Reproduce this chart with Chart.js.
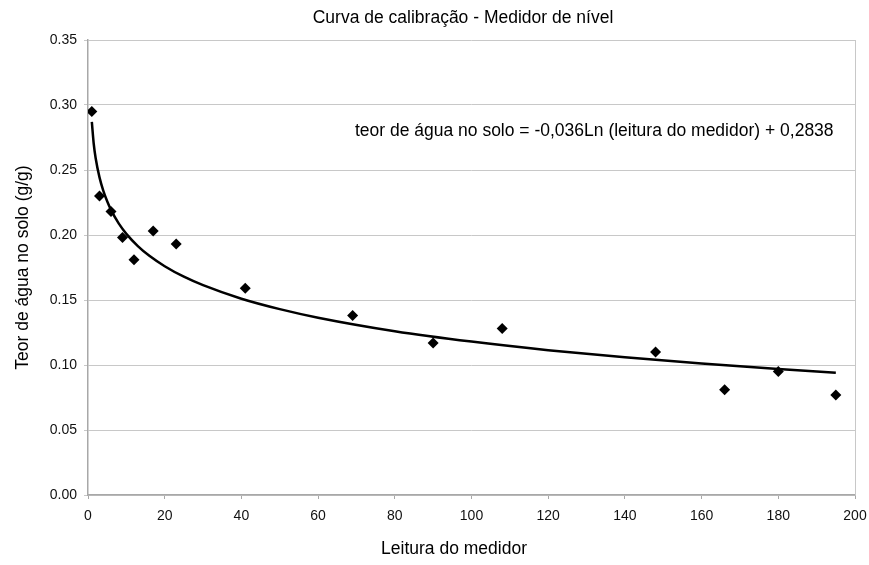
<!DOCTYPE html>
<html>
<head>
<meta charset="utf-8">
<script src="https://cdn.jsdelivr.net/npm/chart.js@4/dist/chart.umd.min.js"></script>
<style>
  body { margin: 0; background: #fff; }
  canvas { display: block; }
</style>
</head>
<body>
<canvas id="myChart" width="869" height="565"></canvas>
<script>
// leituras do medidor e teor de água medido
var readings = [1, 3, 6, 9, 12, 17, 23, 41, 69, 90, 108, 148, 166, 180, 195];
var water = [0.295, 0.230, 0.218, 0.198, 0.181, 0.203, 0.193, 0.159, 0.138, 0.117, 0.128, 0.110, 0.081, 0.095, 0.077];
// linha de tendência (log) lida sobre a curva
var trendX = [1, 1.5, 2, 3, 4, 5, 6, 8, 10, 13, 16, 20, 25, 30, 40, 50, 60, 80, 100, 120, 140, 160, 180, 195];
var trendY = [0.2870, 0.2700, 0.2590, 0.2443, 0.2339, 0.2259, 0.2193, 0.2089, 0.2009, 0.1915, 0.1840, 0.1760, 0.1679, 0.1614, 0.1510, 0.1430, 0.1364, 0.1260, 0.1180, 0.1114, 0.1059, 0.1011, 0.0969, 0.0940];
var chartTitle = "Curva de calibração - Medidor de nível";
var xTitle = "Leitura do medidor";
var yTitle = "Teor de água no solo (g/g)";
var equation = "teor de água no solo = -0,036Ln (leitura do medidor) + 0,2838";

var fontFamily = "'Liberation Sans', Arial, sans-serif";

var points = readings.map(function (x, i) { return {x: x, y: water[i]}; });
var trend = trendX.map(function (x, i) { return {x: x, y: trendY[i]}; });

// Textos extras e borda direita
var extras = {
    id: 'extras',
    beforeDatasetsDraw: function (chart) {
        let ctx = chart.ctx;
        let area = chart.chartArea;
        ctx.save();
        ctx.strokeStyle = '#c8c8c8';
        ctx.lineWidth = 1;
        ctx.beginPath();
        ctx.moveTo(area.right + 0.5, area.top);
        ctx.lineTo(area.right + 0.5, area.bottom);
        ctx.stroke();
        ctx.restore();
    },
    afterDraw: function (chart) {
        let ctx = chart.ctx;
        let xs = chart.scales.x;
        let ys = chart.scales.y;
        ctx.save();
        ctx.fillStyle = '#000';
        ctx.font = '17.5px ' + fontFamily;
        ctx.textBaseline = 'middle';
        ctx.textAlign = 'center';
        ctx.fillText(chartTitle, 463, 18);
        ctx.fillText(xTitle, 454, 549);
        ctx.textAlign = 'left';
        ctx.fillText(equation, xs.getPixelForValue(69.6), ys.getPixelForValue(0.28));
        ctx.restore();
    }
};

new Chart("myChart", {
    type: "scatter",
    data: {
        datasets: [{
            data: points,
            pointStyle: 'rectRot',
            pointRadius: 5.5,
            pointBackgroundColor: '#000',
            pointBorderColor: '#000',
            pointBorderWidth: 0,
            showLine: false,
            order: 1
        }, {
            data: trend,
            showLine: true,
            borderColor: '#000',
            borderWidth: 2.5,
            pointRadius: 0,
            cubicInterpolationMode: 'monotone',
            order: 2
        }]
    },
    options: {
        responsive: false,
        animation: false,
        layout: {
            padding: {left: 0, right: 14, top: 40, bottom: 0}
        },
        plugins: {
            legend: { display: false },
            tooltip: { enabled: false }
        },
        scales: {
            x: {
                type: 'linear',
                min: 0,
                max: 200,
                afterFit: function (scale) {
                    scale.height = 70;
                    scale.paddingLeft = 0;
                    scale.paddingRight = 0;
                },
                ticks: {
                    stepSize: 20,
                    padding: 9,
                    color: '#111',
                    font: { family: fontFamily, size: 14 }
                },
                grid: {
                    drawOnChartArea: false,
                    tickLength: 4,
                    color: '#a8a8a8'
                },
                border: { color: '#a8a8a8', width: 1.5 }
            },
            y: {
                min: 0,
                max: 0.35,
                afterFit: function (scale) { scale.width = 88; },
                ticks: {
                    stepSize: 0.05,
                    padding: 7,
                    color: '#111',
                    font: { family: fontFamily, size: 14 },
                    callback: function (v) { return v.toFixed(2); }
                },
                grid: {
                    color: '#c8c8c8',
                    tickLength: 4
                },
                border: { color: '#a8a8a8', width: 1.5 },
                title: {
                    display: true,
                    text: yTitle,
                    color: '#000',
                    font: { family: fontFamily, size: 17.5 },
                    padding: { top: 12.5, bottom: 0 }
                }
            }
        }
    },
    plugins: [extras]
});
</script>
</body>
</html>
